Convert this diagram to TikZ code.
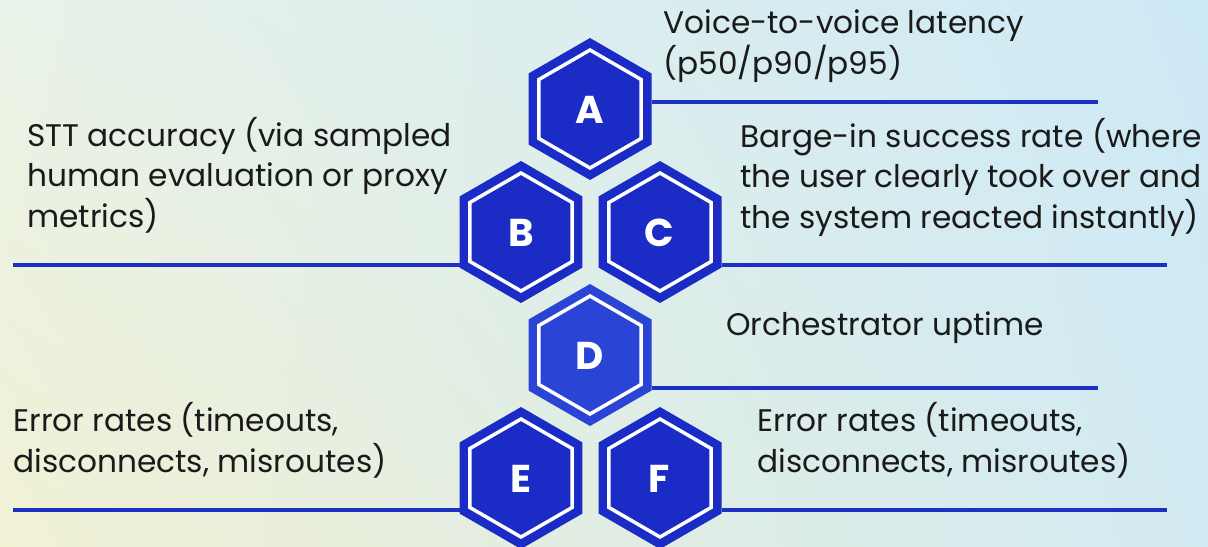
\documentclass[tikz,border=0pt]{standalone}
\usepackage{fontspec}
\setmainfont{Poppins}
\usetikzlibrary{shadings}
\definecolor{hexblue}{HTML}{1B2CC6}
\definecolor{hexblueD}{HTML}{2A45D6}
\definecolor{lineblue}{HTML}{1D30C4}
\definecolor{txt}{HTML}{1A1A1A}
\definecolor{bgUL}{HTML}{E9F2E8}
\definecolor{bgLL}{HTML}{F1F1D4}
\definecolor{bgUR}{HTML}{CDE9F6}
\definecolor{bgLR}{HTML}{D2EAF2}
\tikzset{
  hexfill/.style={fill=hexblue},
  hexring/.style={draw=white, line width=1.75pt},
  letter/.style={circle, inner sep=0pt, minimum size=10pt, text=white, font=\fontsize{19.4}{20}\selectfont\bfseries},
  label/.style={anchor=base west, inner sep=0pt, align=left, text=txt, font=\fontsize{15.6}{20.25}\selectfont},
  bar/.style={draw=lineblue, line width=2.2pt}
}
\newcommand{\hexagon}[3]{%
  \fill[#3] (#1,#2) ++(90:71) -- ++(210:71) -- ++(270:71) -- ++(330:71) -- ++(30:71) -- ++(90:71) -- cycle;
  \draw[hexring] (#1,#2) ++(90:59) -- ++(210:59) -- ++(270:59) -- ++(330:59) -- ++(30:59) -- ++(90:59) -- cycle;
}
\begin{document}
\begin{tikzpicture}[x=0.5pt,y=-0.5pt]
\shade[upper left=bgUL, lower left=bgLL, upper right=bgUR, lower right=bgLR] (0,0) rectangle (1208,546);
\useasboundingbox (0,0) rectangle (1208,546);

% hexagons
\hexagon{590}{109}{hexfill}
\hexagon{521}{232}{hexfill}
\hexagon{660}{232}{hexfill}
\hexagon{590}{355}{fill=hexblueD}
\hexagon{521}{478}{hexfill}
\hexagon{660}{478}{hexfill}

\node[letter] (hA) at (590,110) {A};
\node[letter] (hB) at (521,233) {B};
\node[letter] (hC) at (659,233) {C};
\node[letter] (hD) at (590,356) {D};
\node[letter] (hE) at (521,479) {E};
\node[letter] (hF) at (659,479) {F};

% connector end points
\coordinate (aS) at (651.5,102);  \coordinate (aT) at (1098,102);
\coordinate (bS) at (459.5,265);  \coordinate (bT) at (13,265);
\coordinate (cS) at (721.5,265);  \coordinate (cT) at (1167,265);
\coordinate (dS) at (651.5,388);  \coordinate (dT) at (1098,388);
\coordinate (eS) at (459.5,510);  \coordinate (eT) at (13,510);
\coordinate (fS) at (721.5,510);  \coordinate (fT) at (1167,510);

\draw[bar] (aS) -- (aT);
\draw[bar] (bS) -- (bT);
\draw[bar] (cS) -- (cT);
\draw[bar] (dS) -- (dT);
\draw[bar] (eS) -- (eT);
\draw[bar] (fS) -- (fT);

% labels (anchor = baseline of the last line)
\node[label] (tA) at (663,74) {Voice-to-voice latency\\(p50/p90/p95)};
\node[label] (tB) at (27,227) {STT accuracy (via sampled\\human evaluation or proxy\\metrics)};
\node[label] (tC) at (740,228) {Barge-in success rate (where\\the user clearly took over and\\the system reacted instantly)};
\node[label] (tD) at (726,335) {Orchestrator uptime};
\node[label] (tE) at (13,472) {Error rates (timeouts,\\disconnects, misroutes)};
\node[label] (tF) at (757,472) {Error rates (timeouts,\\disconnects, misroutes)};
\end{tikzpicture}
\end{document}
